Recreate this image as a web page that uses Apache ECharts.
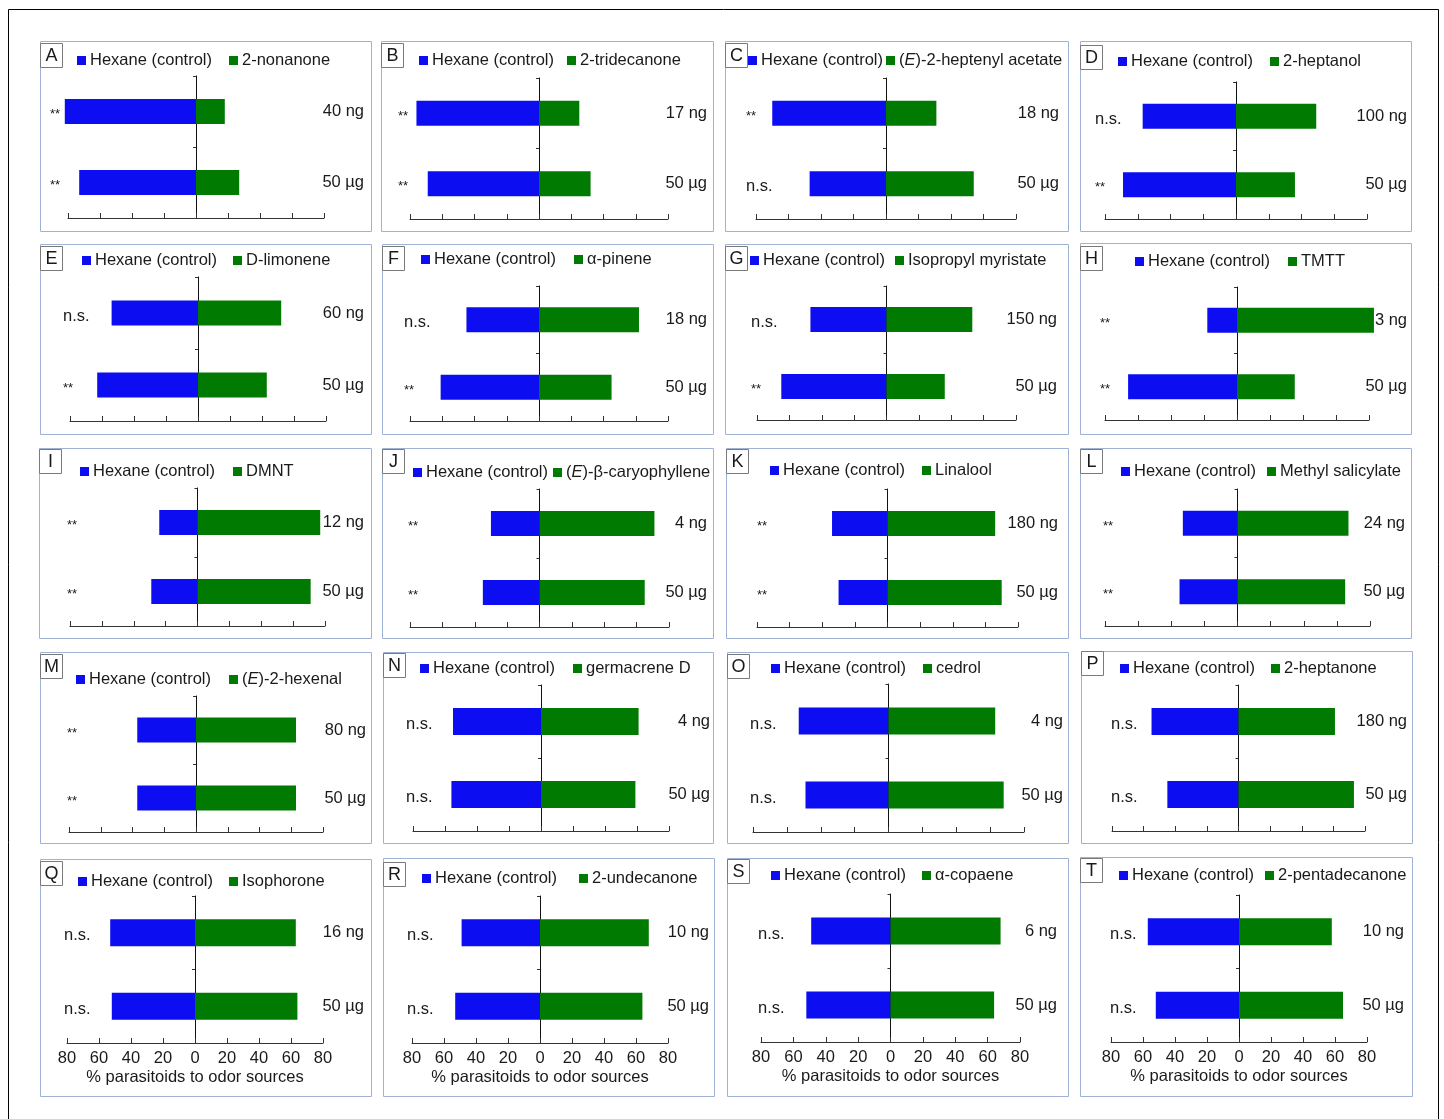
<!DOCTYPE html>
<html><head><meta charset="utf-8">
<script src="https://cdn.jsdelivr.net/npm/echarts@6/dist/echarts.min.js"></script>
<style>html,body{margin:0;padding:0;background:#fff}#c{width:1444px;height:1119px}</style>
</head><body><div id="c"></div>
<script>
// ---------------- DATA ----------------
const panelLetters = ['A','B','C','D','E','F','G','H','I','J','K','L','M','N','O','P','Q','R','S','T'];
const controlName = 'Hexane (control)';
const compoundNames = ['2-nonanone','2-tridecanone','(E)-2-heptenyl acetate','2-heptanol',
  'D-limonene','α-pinene','Isopropyl myristate','TMTT',
  'DMNT','(E)-β-caryophyllene','Linalool','Methyl salicylate',
  '(E)-2-hexenal','germacrene D','cedrol','2-heptanone',
  'Isophorone','2-undecanone','α-copaene','2-pentadecanone'];
// categories (top row = low dose, bottom row = 50 µg)
const doseLabels = [['40 ng','50 µg'],['17 ng','50 µg'],['18 ng','50 µg'],['100 ng','50 µg'],
  ['60 ng','50 µg'],['18 ng','50 µg'],['150 ng','50 µg'],['3 ng','50 µg'],
  ['12 ng','50 µg'],['4 ng','50 µg'],['180 ng','50 µg'],['24 ng','50 µg'],
  ['80 ng','50 µg'],['4 ng','50 µg'],['4 ng','50 µg'],['180 ng','50 µg'],
  ['16 ng','50 µg'],['10 ng','50 µg'],['6 ng','50 µg'],['10 ng','50 µg']];
// % parasitoids choosing hexane (control)
const hexaneValues = [[82,73],[76,69],[70,47],[57,69],
  [54,63],[45,61],[47,65],[18,66],
  [24,29],[30,35],[34,30],[33,35],
  [37,37],[55,56],[53,49],[55,45],
  [53,52],[49,53],[49,52],[57,52]];
// % parasitoids choosing the compound
const compoundValues = [[18,27],[25,32],[31,54],[49,36],
  [52,43],[62,45],[53,36],[83,35],
  [77,71],[71,65],[66,70],[67,65],
  [63,63],[61,59],[63,68],[61,73],
  [63,64],[68,64],[68,64],[58,65]];
const sigLabels = [['**','**'],['**','**'],['**','n.s.'],['n.s.','**'],
  ['n.s.','**'],['n.s.','**'],['n.s.','**'],['**','**'],
  ['**','**'],['**','**'],['**','**'],['**','**'],
  ['**','**'],['n.s.','n.s.'],['n.s.','n.s.'],['n.s.','n.s.'],
  ['n.s.','n.s.'],['n.s.','n.s.'],['n.s.','n.s.'],['n.s.','n.s.']];
const xAxisMin = -80, xAxisMax = 80, xAxisStep = 20;
const xAxisTitle = '% parasitoids to odor sources';

// ---------------- LAYOUT ----------------
const panelBoxes = [[40,41,371,231],[381,41,713,231],[725,41,1068,231],[1080,41,1411,231],
  [40,244,371,434],[382,244,713,434],[725,244,1068,434],[1080,243,1411,434],
  [39,448,371,638],[382,448,713,638],[726,448,1068,638],[1080,448,1411,638],
  [40,652,371,843],[383,652,713,843],[727,652,1068,843],[1081,651,1412,843],
  [40,859,371,1096],[383,858,714,1096],[727,858,1068,1096],[1080,857,1412,1096]];
const gridBoxes = [[68,324,76,218],[410,668,78,219],[756,1016,78,219],[1105,1367,82,219],
  [70,326,277,421],[410,668,286,421],[757,1016,286,420],[1105,1369,287,420],
  [70,325,488,626],[410,669,489,627],[757,1018,489,627],[1105,1370,489,626],
  [69,323,696,832],[413,669,685,831],[753,1024,684,832],[1112,1365,685,831],
  [67,323,896,1043],[412,668,896,1043],[761,1020,894,1042],[1111,1367,895,1042]];
const legendPos = [[77,229,60],[419,567,60],[748,886,60],[1118,1270,61],
  [82,233,260],[421,574,259],[750,895,260],[1135,1288,261],
  [80,233,471],[413,553,472],[770,922,470],[1121,1267,471],
  [76,229,679],[420,573,668],[771,923,668],[1120,1271,668],
  [78,229,881],[422,579,878],[771,922,875],[1119,1265,875]];
const letterY = [55,55,55,57, 258,258,258,258, 461,461,461,461, 666,665,666,663, 873,874,871,870];
const sigX = [50,398,746,1095, 63,404,751,1100, 67,408,757,1103, 67,406,750,1111, 64,407,758,1110];
const doseEndX = [364,707,1059,1407, 364,707,1057,1407, 364,707,1058,1405, 366,710,1063,1407, 364,709,1057,1404];
const barWidths = [25,25,25,25, 25,25,25,25, 25,25,25,25, 25,27,27,27, 27,27,27,27];

const BLUE = '#0d0df2', GREEN = '#007a00';
const FONT = 'Liberation Sans, Arial, Helvetica, sans-serif';
const TXT = '#1a1a1a';
const FS = 16.5;

const chart = echarts.init(document.getElementById('c'), null, {renderer:'canvas'});
const grids = [], xAxes = [], yAxes = [], series = [], legends = [], graphics = [];

graphics.push({type:'rect', shape:{x:8.5,y:9.5,width:1430,height:1200}, style:{fill:'none',stroke:'#000',lineWidth:1}, silent:true});

panelLetters.forEach((letter, i) => {
  const [pl, pt, pr, pb] = panelBoxes[i];
  graphics.push({type:'rect', shape:{x:pl+0.5,y:pt+0.5,width:pr-pl,height:pb-pt}, style:{fill:'none',stroke:'#9fb2d6',lineWidth:1}, silent:true, z:0});
  graphics.push({type:'rect', shape:{x:pl+0.5,y:letterY[i]-11.5,width:22,height:24}, style:{fill:'#fff',stroke:'#7a7a7a',lineWidth:1}, silent:true, z:1});
  graphics.push({type:'text', x:pl+11.5, y:letterY[i]+1, style:{text:letter, fontSize:18, fontFamily:FONT, fill:TXT, align:'center', verticalAlign:'middle', textAlign:'center', textVerticalAlign:'middle'}, silent:true, z:2});

  const [gl, gr, gt, gb] = gridBoxes[i];
  grids.push({left:gl, top:gt, width:gr-gl, height:gb-gt, containLabel:false});
  const bottomRow = i >= 16;
  xAxes.push({
    gridIndex:i, type:'value', min:xAxisMin, max:xAxisMax, interval:xAxisStep,
    axisLine:{show:true, onZero:false, lineStyle:{color:'#333', width:1}},
    axisTick:{show:true, inside:true, length:5, lineStyle:{color:'#333'}},
    axisLabel:{show:bottomRow, formatter:v => String(Math.abs(v)), fontSize:FS, fontFamily:FONT, color:TXT, margin:7},
    splitLine:{show:false},
    name: bottomRow ? xAxisTitle : '', nameLocation:'middle', nameGap:26,
    nameTextStyle:{fontSize:FS, fontFamily:FONT, color:TXT}
  });
  // main category axis (line on zero)
  yAxes.push({
    gridIndex:i, type:'category', data:doseLabels[i], inverse:true, position:'left',
    axisLine:{show:true, onZero:true, lineStyle:{color:'#111', width:1}},
    axisTick:{show:true, length:3, interval:0, lineStyle:{color:'#333'}},
    axisLabel:{show:false}, splitLine:{show:false}
  });
  // dose labels on the right
  yAxes.push({
    gridIndex:i, type:'category', data:doseLabels[i], inverse:true, position:'right',
    axisLine:{show:false, onZero:false}, axisTick:{show:false},
    axisLabel:{show:true, interval:0, align:'right', margin:doseEndX[i]-gr, fontSize:FS, fontFamily:FONT, color:TXT, padding:[6,0,0,0]},
    splitLine:{show:false}
  });
  // significance labels on the left
  const sig = sigLabels[i];
  yAxes.push({
    gridIndex:i, type:'category', data:doseLabels[i], inverse:true, position:'left',
    axisLine:{show:false, onZero:false}, axisTick:{show:false},
    axisLabel:{show:true, interval:0, align:'left', margin:gl-sigX[i], fontFamily:FONT, color:TXT, padding:[6,0,0,0],
      formatter:(v, idx) => sig[idx] === '**' ? '{s|**}' : '{n|' + sig[idx] + '}',
      rich:{s:{fontSize:13, fontFamily:FONT, color:TXT}, n:{fontSize:FS, fontFamily:FONT, color:TXT}}},
    splitLine:{show:false}
  });
  series.push({
    type:'bar', name:controlName, xAxisIndex:i, yAxisIndex:3*i,
    data:hexaneValues[i].map(v => -v), barWidth:barWidths[i], barGap:'-100%', clip:false,
    itemStyle:{color:BLUE}, emphasis:{disabled:true}
  });
  series.push({
    type:'bar', name:compoundNames[i], xAxisIndex:i, yAxisIndex:3*i,
    data:compoundValues[i], barWidth:barWidths[i], barGap:'-100%', clip:false,
    itemStyle:{color:GREEN}, emphasis:{disabled:true}
  });
  const [hx, cx, ly] = legendPos[i];
  const common = {
    orient:'horizontal', padding:0, itemGap:0, selectedMode:false, icon:'rect',
    itemWidth:9, itemHeight:9, top:ly-8,
    textStyle:{fontSize:FS, fontFamily:FONT, color:TXT, padding:[0,0,0,-1],
      rich:{i:{fontSize:FS, fontFamily:FONT, color:TXT, fontStyle:'italic'}, r:{fontSize:FS, fontFamily:FONT, color:TXT}}}
  };
  legends.push(Object.assign({}, common, {left:hx, data:[controlName]}));
  legends.push(Object.assign({}, common, {left:cx, data:[compoundNames[i]],
    formatter:name => name.indexOf('(E)') === 0 ? '{r|(}{i|E}{r|' + name.slice(2) + '}' : name}));
});

chart.setOption({
  animation:false,
  backgroundColor:'#fff',
  textStyle:{fontFamily:FONT},
  grid:grids, xAxis:xAxes, yAxis:yAxes, series:series, legend:legends,
  graphic:{elements:graphics}
});
</script></body></html>
